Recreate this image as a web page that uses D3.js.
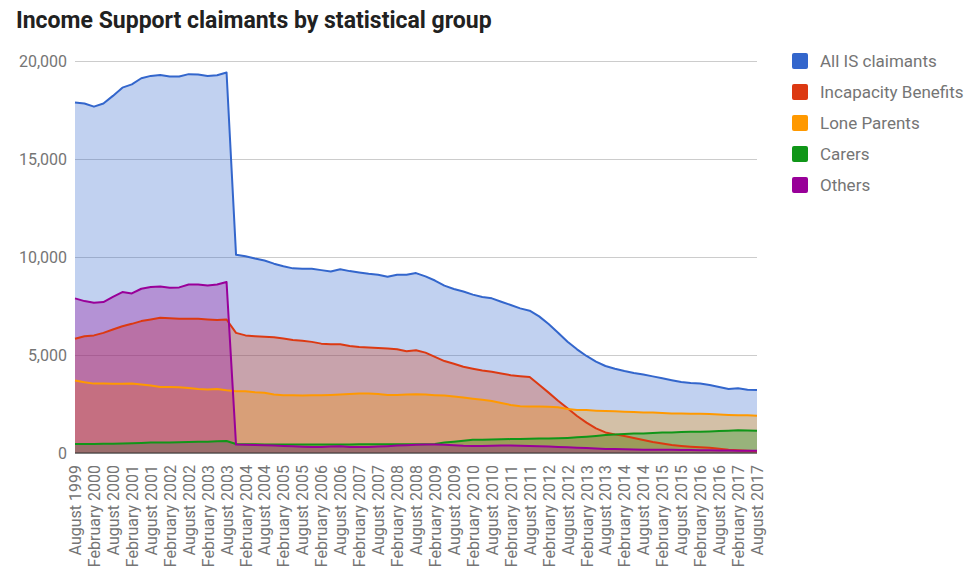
<!DOCTYPE html>
<html>
<head>
<meta charset="utf-8">
<script src="https://cdn.jsdelivr.net/npm/d3@7"></script>
<style>
  body { margin: 0; background: #fff; }
  text { font-family: Roboto, "Noto Sans", sans-serif; }
</style>
</head>
<body>
<svg id="chart" width="965" height="572"></svg>
<script>
// quarterly readings, August 1999 .. August 2017
var months = ["February", "May", "August", "November"];
var quarters = [];
for (var yr = 1999; yr <= 2017; yr++) {
    months.forEach(function(m, i) {
        if (yr == 1999 && i < 2) return;
        if (yr == 2017 && i > 2) return;
        quarters.push(m + " " + yr);
    });
}

var seriesNames = ["All IS claimants", "Incapacity Benefits", "Lone Parents", "Carers", "Others"];
var colors = ["#3366cc", "#dc3912", "#ff9900", "#109618", "#990099"];
var yTicks = [0, 5000, 10000, 15000, 20000];

var allIS = [17880,17830,17670,17830,18220,18640,18810,19120,19240,19290,19210,19210,19330,19310,19240,19270,19410,
    10120,10040,9920,9820,9660,9530,9420,9400,
    9400,9330,9260,9370,9280,9210,9140,9090,8990,9090,9090,9180,9010,8800,8540,8370,8240,8080,7960,7890,7720,7550,7380,7260,
    6970,6580,6140,5680,5290,4950,4660,4440,4300,4180,4080,4000,3910,3810,3710,3620,3570,3550,3470,3370,3270,3300,3230,3210];
var incapacity = [5830,5960,6000,6130,6300,6470,6590,6730,6810,6900,6880,6850,6850,6850,6810,6780,6810,
    6130,6000,5960,5930,5910,5840,5760,5730,
    5670,5580,5550,5550,5460,5410,5380,5360,5330,5290,5190,5240,5120,4900,4690,4550,4400,4300,4210,4140,4060,3970,3920,3880,
    3480,3080,2670,2280,1890,1550,1260,1050,950,870,770,660,560,480,410,360,320,290,270,220,170,140,110,90];
var loneParents = [3700,3610,3540,3540,3530,3530,3540,3490,3440,3370,3370,3360,3320,3270,3240,3270,3200,
    3150,3150,3100,3070,2980,2950,2950,2940,
    2950,2950,2960,2980,3010,3030,3030,3010,2960,2960,2980,3000,2980,2950,2930,2880,2830,2770,2720,2650,2550,2450,2380,2370,
    2370,2360,2330,2250,2190,2190,2160,2140,2130,2110,2090,2070,2060,2040,2020,2020,2000,2000,1990,1960,1940,1920,1920,1900];
var carers = [460,460,460,470,470,480,500,510,530,530,540,550,560,570,580,600,610,
    460,450,450,440,440,430,430,430,
    440,440,440,440,440,450,450,450,450,450,450,450,450,460,530,580,630,670,680,690,700,710,720,730,
    740,740,750,770,800,830,870,920,950,970,990,1000,1020,1040,1050,1070,1080,1090,1100,1120,1140,1160,1150,1140];
var others = [7890,7750,7670,7700,7970,8210,8140,8380,8470,8500,8430,8450,8600,8600,8550,8600,8720,
    430,420,410,400,380,360,340,320,
    300,310,330,340,310,300,310,330,350,380,400,420,430,430,420,400,370,360,360,370,380,380,370,360,
    350,330,310,290,270,250,230,210,200,190,180,170,170,160,160,150,150,140,140,130,130,120,120,120];

var seriesValues = [allIS, incapacity, loneParents, carers, others];

var svg = d3.select("#chart");
var plotLeft = 75, plotRight = 757, plotTop = 61, plotBottom = 453;

var x = d3.scalePoint().domain(quarters).range([plotLeft, plotRight]);
var y = d3.scaleLinear().domain([0, 20000]).range([plotBottom, plotTop]);

svg.append("text")
    .attr("x", 16).attr("y", 28)
    .attr("font-size", 23).attr("font-weight", "bold")
    .attr("fill", "#212121")
    .text("Income Support claimants by statistical group");

// grid + y labels
var yAxis = svg.append("g")
    .attr("transform", "translate(" + plotLeft + ",0)")
    .call(d3.axisLeft(y).tickValues(yTicks).tickSize(-(plotRight - plotLeft)).tickPadding(8)
        .tickFormat(d3.format(",")));
yAxis.select(".domain").remove();
yAxis.selectAll("line").attr("stroke", "#cccccc");
yAxis.selectAll("text").attr("font-size", 16).attr("fill", "#757575");

var series = seriesValues.map(function(vals, i) {
    return { name: seriesNames[i], color: colors[i],
             pts: vals.map(function(v, j) { return { q: quarters[j], v: v }; }) };
});

var area = d3.area()
    .x(function(d) { return x(d.q); })
    .y0(y(0))
    .y1(function(d) { return y(d.v); });
var line = d3.line()
    .x(function(d) { return x(d.q); })
    .y(function(d) { return y(d.v); });

svg.append("g").selectAll("path")
    .data(series)
    .enter().append("path")
    .attr("d", function(d) { return area(d.pts); })
    .attr("fill", function(d) { return d.color; })
    .attr("fill-opacity", 0.3);

svg.append("line")
    .attr("x1", plotLeft).attr("x2", plotRight)
    .attr("y1", plotBottom).attr("y2", plotBottom)
    .attr("stroke", "#333").attr("stroke-width", 1);

svg.append("g").selectAll("path")
    .data(series)
    .enter().append("path")
    .attr("d", function(d) { return line(d.pts); })
    .attr("fill", "none")
    .attr("stroke", function(d) { return d.color; })
    .attr("stroke-width", 2)
    .attr("stroke-linejoin", "round");

// x labels every half year
var xTickVals = quarters.filter(function(q, i) { return i % 2 == 0; });
var xAxis = svg.append("g")
    .attr("transform", "translate(0," + plotBottom + ")")
    .call(d3.axisBottom(x).tickValues(xTickVals).tickSize(0));
xAxis.select(".domain").remove();
xAxis.selectAll("text")
    .attr("font-size", 16).attr("fill", "#757575")
    .attr("text-anchor", "end")
    .attr("dy", null)
    .attr("y", 0)
    .attr("transform", "translate(5.5,12) rotate(-90)");

// legend
var legend = svg.append("g").selectAll("g")
    .data(series)
    .enter().append("g")
    .attr("transform", function(d, i) { return "translate(792," + (61 + i * 31) + ")"; });
legend.append("rect")
    .attr("x", 0).attr("y", -8).attr("width", 16).attr("height", 16)
    .attr("rx", 2)
    .attr("fill", function(d) { return d.color; });
legend.append("text")
    .attr("x", 28).attr("y", 0).attr("dy", "0.35em")
    .attr("font-size", 17).attr("fill", "#757575")
    .text(function(d) { return d.name; });
</script>
</body>
</html>
